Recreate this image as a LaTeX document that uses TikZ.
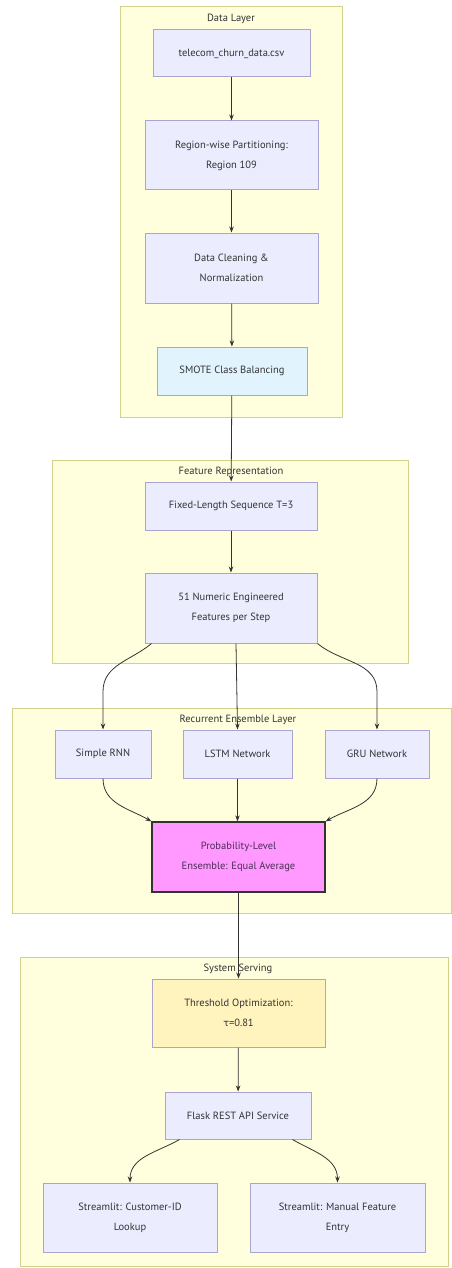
\documentclass[tikz,border=0pt]{standalone}
\usepackage{fontspec}
\setmainfont{PT Sans}
\newfontfamily\grk{DejaVu Sans}
\usetikzlibrary{arrows.meta}

\definecolor{clusterfill}{HTML}{FFFFDE}
\definecolor{clusterline}{HTML}{D2D28A}
\definecolor{nodefill}{HTML}{ECECFF}
\definecolor{nodeline}{HTML}{ACA4D0}
\definecolor{smotefill}{HTML}{E1F3FC}
\definecolor{smoteline}{HTML}{A3ABC8}
\definecolor{ensfill}{HTML}{FF99FF}
\definecolor{enstext}{HTML}{4A2E55}
\definecolor{thrfill}{HTML}{FFF4BE}
\definecolor{ink}{HTML}{333333}

\tikzset{
  cluster/.style={draw=clusterline, fill=clusterfill, line width=1pt},
  title/.style={text=ink, font=\fontsize{10.5}{12}\selectfont},
  proc/.style={draw=nodeline, fill=nodefill, line width=1pt, text=ink,
    align=center, font=\fontsize{10.5}{20}\selectfont},
  flow/.style={draw=ink, line width=0.8pt, -{Stealth[length=6pt,width=4.5pt]}}
}

\begin{document}
\begin{tikzpicture}[x=1pt,y=-1pt]
    \useasboundingbox (0,0) rectangle (452,1268);

    % Capas
    \draw[cluster] (120,7) rectangle (342,417);
    \node (datat) at (231,19) [title] {Data Layer};
    \draw[cluster] (52,460) rectangle (408,663);
    \node (featt) at (231,472) [title] {Feature Representation};
    \draw[cluster] (12,708) rectangle (451.5,913);
    \node (recut) at (238,720) [title] {Recurrent Ensemble Layer};
    \draw[cluster] (20,957) rectangle (448,1266);
    \node (servt) at (238,969) [title] {System Serving};

    % Datos
    \node (csv) at (231.5,53.5) [proc, minimum width=157pt, minimum height=47pt] {telecom\_churn\_data.csv};
    \node (part) at (231.5,155.5) [proc, minimum width=173pt, minimum height=69pt] {Region-wise Partitioning:\\Region 109};
    \node (clean) at (231.5,268) [proc, minimum width=173pt, minimum height=70pt] {Data Cleaning \&\\Normalization};
    \node (smote) at (232,371) [proc, draw=smoteline, fill=smotefill, minimum width=150pt, minimum height=48pt] {SMOTE Class Balancing};

    % Representacion
    \node (seq) at (231,506) [proc, minimum width=172pt, minimum height=48pt] {Fixed-Length Sequence T=3};
    \node (feat) at (231,608) [proc, minimum width=172pt, minimum height=70pt] {51 Numeric Engineered\\Features per Step};

    % Modelos
    \node (rnn) at (103,754) [proc, minimum width=96pt, minimum height=48pt] {Simple RNN};
    \node (lstm) at (237.5,754) [proc, minimum width=109pt, minimum height=48pt] {LSTM Network};
    \node (gru) at (377,754) [proc, minimum width=104pt, minimum height=48pt] {GRU Network};
    \node (ens) at (238.5,857) [proc, draw=ink, fill=ensfill, text=enstext, line width=1.3pt, minimum width=173pt, minimum height=70pt] {Probability-Level\\Ensemble: Equal Average};

    % Servicio
    \node (thr) at (238.5,1013) [proc, fill=thrfill, minimum width=173pt, minimum height=68pt] {Threshold Optimization:\\{\grk\fontsize{9.5}{20}\selectfont τ}=0.81};
    \node (flask) at (238,1115.5) [proc, minimum width=146pt, minimum height=47pt] {Flask REST API Service};
    \node (lookup) at (130,1217.5) [proc, minimum width=174pt, minimum height=69pt] {Streamlit: Customer-ID\\Lookup};
    \node (manual) at (337.5,1217.5) [proc, minimum width=175pt, minimum height=69pt] {Streamlit: Manual Feature\\Entry};

    % Flechas
    \draw[flow] (csv) -- (part);
    \draw[flow] (part) -- (clean);
    \draw[flow] (clean) -- (smote);
    \draw[flow] (smote) -- (seq);
    \draw[flow] (seq) -- (feat);
    \draw[flow] ([xshift=7pt]feat.south west) to[out=-140,in=90] ([yshift=38pt]rnn.north) -- (rnn.north);
    \draw[flow] ([xshift=5pt]feat.south) -- (lstm.north);
    \draw[flow] (feat.south east) to[out=-40,in=90] ([yshift=38pt]gru.north) -- (gru.north);
    \draw[flow] (rnn.south) to[out=-90,in=150] (ens.north west);
    \draw[flow] (lstm.south) -- ([xshift=-1pt]ens.north);
    \draw[flow] (gru.south) to[out=-90,in=30] (ens.north east);
    \draw[flow] (ens) -- (thr);
    \draw[flow] (thr) -- (flask);
    \draw[flow] ([xshift=15pt]flask.south west) to[out=-150,in=90] (lookup.north);
    \draw[flow] ([xshift=-19pt]flask.south east) to[out=-30,in=90] (manual.north);
\end{tikzpicture}
\end{document}
